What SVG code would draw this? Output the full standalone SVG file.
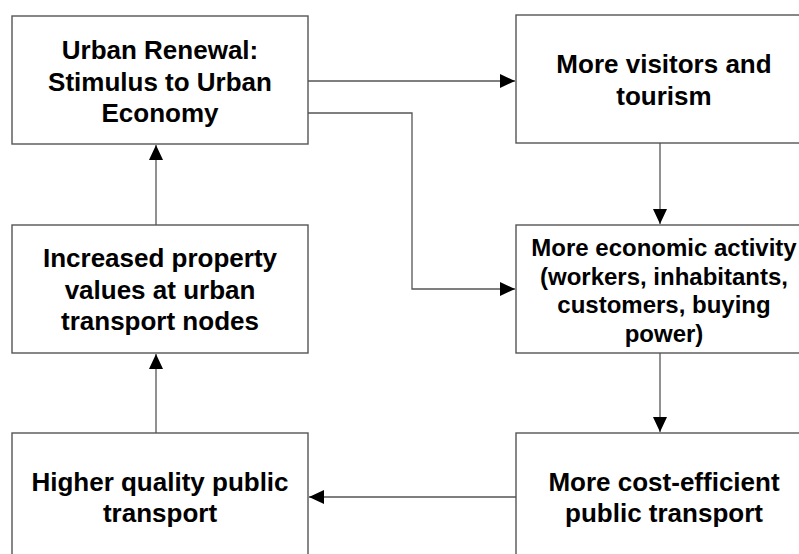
<svg xmlns="http://www.w3.org/2000/svg" width="799" height="554" viewBox="0 0 799 554">
<style>
.box{fill:#fff;stroke:#555;stroke-width:1.4}
.t{font-family:"Liberation Sans",Arial,sans-serif;font-weight:bold;font-size:26px;fill:#000;text-anchor:middle}
.s{font-size:24px}
.c{fill:none;stroke:#555;stroke-width:1.3}
</style>
<defs>
<marker id="ah" markerUnits="userSpaceOnUse" markerWidth="16" markerHeight="14" refX="15" refY="7" orient="auto">
<path d="M0,0 L15,7 L0,14 z" fill="#000"/>
</marker>
</defs>
<rect width="799" height="554" fill="#fff"/>
<g id="connectors">
<path class="c" d="M308,81 H515" marker-end="url(#ah)"/>
<path class="c" d="M308,113 H412 V289 H515" marker-end="url(#ah)"/>
<path class="c" d="M660,143 V224" marker-end="url(#ah)"/>
<path class="c" d="M660,353 V432" marker-end="url(#ah)"/>
<path class="c" d="M516,497 H309" marker-end="url(#ah)"/>
<path class="c" d="M156,433 V354" marker-end="url(#ah)"/>
<path class="c" d="M156,225 V145" marker-end="url(#ah)"/>
</g>
<g id="node-urban-renewal">
<rect class="box" x="12" y="16" width="296" height="128"/>
<text class="t" x="160" y="59">Urban Renewal:</text>
<text class="t" x="160" y="90.5">Stimulus to Urban</text>
<text class="t" x="160" y="122">Economy</text>
</g>
<g id="node-visitors">
<rect class="box" x="516" y="15" width="296" height="128"/>
<text class="t" x="664" y="72.7">More visitors and</text>
<text class="t" x="664" y="104.5">tourism</text>
</g>
<g id="node-economic-activity">
<rect class="box" x="516" y="225" width="296" height="128"/>
<text class="t s" x="664" y="255.5">More economic activity</text>
<text class="t s" x="664" y="284.5">(workers, inhabitants,</text>
<text class="t s" x="664" y="313.3">customers, buying</text>
<text class="t s" x="664" y="342">power)</text>
</g>
<g id="node-property-values">
<rect class="box" x="12" y="225" width="296" height="128"/>
<text class="t" x="160" y="266.7">Increased property</text>
<text class="t" x="160" y="298.5">values at urban</text>
<text class="t" x="160" y="330">transport nodes</text>
</g>
<g id="node-higher-quality">
<rect class="box" x="12" y="433" width="296" height="128"/>
<text class="t" x="160" y="490.7">Higher quality public</text>
<text class="t" x="160" y="522">transport</text>
</g>
<g id="node-cost-efficient">
<rect class="box" x="516" y="433" width="296" height="128"/>
<text class="t" x="664" y="490.7">More cost-efficient</text>
<text class="t" x="664" y="522">public transport</text>
</g>
</svg>
